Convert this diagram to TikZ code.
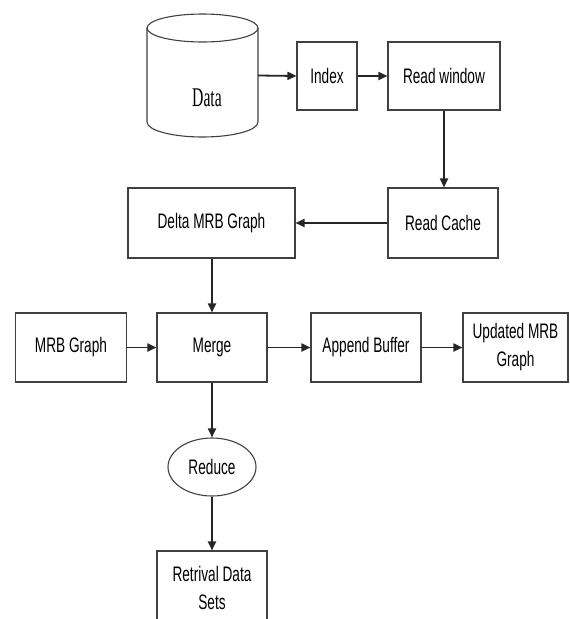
\documentclass[tikz,border=0pt]{standalone}
\usepackage{fontspec}
\setmainfont[FakeStretch=0.65]{Liberation Sans}
\newfontfamily\datafont[FakeStretch=0.58]{Liberation Serif}
\usetikzlibrary{arrows.meta}
\usetikzlibrary{shapes.geometric}

\begin{document}
\begin{tikzpicture}[x=1pt, y=-1pt, >={Triangle[length=9pt, width=8pt]},
	box/.style={draw=black!75, line width=1.1pt, fill=white, align=center, inner sep=0pt,
		font=\fontsize{21}{28}\selectfont},
	flow/.style={->, line width=1.8pt, black!85}]
	\useasboundingbox (0,0) rectangle (570,619);
	% store
	\node (data) [inner sep=0pt, minimum width=111pt, minimum height=123pt] at (202.5,75.5) {};
	\draw [black!75, line width=1.1pt] (202.5,28) ellipse [x radius=55.5, y radius=14];
	\draw [black!75, line width=1.1pt] (147,28) -- (147,122)
		arc [start angle=180, end angle=0, x radius=55.5, y radius=15] -- (258,28);
	\node (datatext) [font=\datafont\fontsize{27}{30}\selectfont] at (207,98) {Data};
	% boxes
	\node (idx) [box, minimum width=60pt, minimum height=68pt] at (327,76) {Index};
	\node (rwin) [box, minimum width=112pt, minimum height=68pt] at (444,76) {Read window};
	\node (rcache) [box, minimum width=110pt, minimum height=70pt] at (443,223) {Read Cache};
	\node (delta) [box, minimum width=167pt, minimum height=70pt] at (211.5,223) {Delta MRB Graph};
	\node (mrb) [box, minimum width=111pt, minimum height=69pt] at (71,347.5) {MRB Graph};
	\node (merge) [box, minimum width=110pt, minimum height=69pt] at (212,347.5) {Merge};
	\node (append) [box, minimum width=110pt, minimum height=69pt] at (366,347.5) {Append Buffer};
	\node (upd) [box, minimum width=105pt, minimum height=69pt] at (515.5,347.5) {Updated MRB\\Graph};
	\node (reduce) [box, ellipse, minimum width=88pt, minimum height=58pt] at (212,467) {Reduce};
	\node (ret) [box, minimum width=110pt, minimum height=74pt] at (212,588) {Retrival Data\\Sets};
	% connectors
	\draw [flow] (data.east) -- (idx.west);
	\draw [flow] (idx) -- (rwin);
	\draw [flow] (rwin.south) -- (rwin.south |- rcache.north);
	\draw [flow] (rcache) -- (delta);
	\draw [flow] (delta.south -| merge.north) -- (merge.north);
	\draw [flow] (mrb) -- (merge);
	\draw [flow] (merge) -- (append);
	\draw [flow] (append) -- (upd);
	\draw [flow] (merge) -- (reduce);
	\draw [flow] (reduce) -- (ret);
\end{tikzpicture}
\end{document}
